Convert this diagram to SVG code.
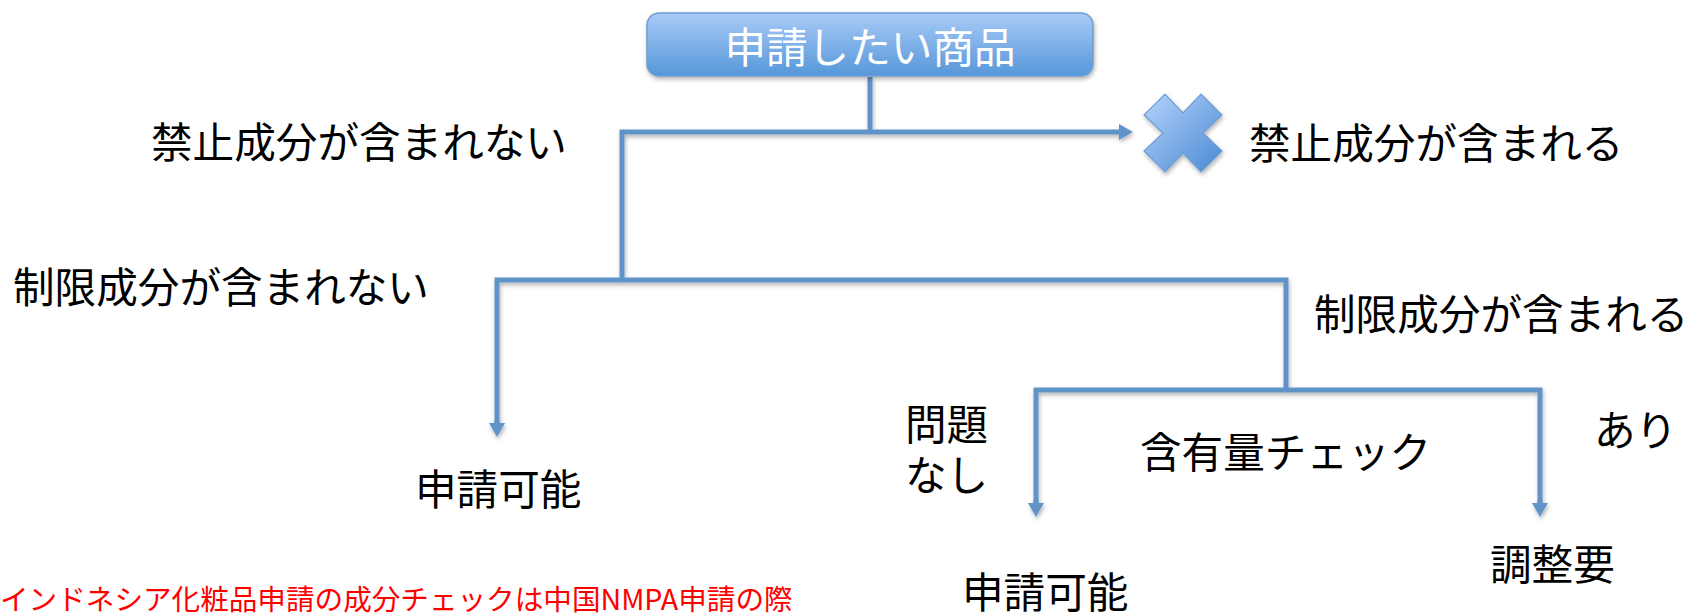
<svg xmlns="http://www.w3.org/2000/svg" width="1689" height="614" viewBox="0 0 1689 614">
  <style>
    .t { font-family: "Noto Sans CJK JP", "Noto Sans", sans-serif; font-size: 41.6px; fill: #000; dominant-baseline: central; }
    .w { fill: #ffffff; text-anchor: middle; }
    .red { font-family: "Noto Sans CJK JP", "Noto Sans", sans-serif; font-size: 28.6px; fill: #ff0000; dominant-baseline: central; }
    .ln { fill: none; stroke: #6194c9; stroke-width: 5; stroke-linejoin: miter; stroke-linecap: butt; }
  </style>
  <defs>
    <linearGradient id="gBox" x1="0" y1="0" x2="0" y2="1">
      <stop offset="0" stop-color="#a8cbf8"/>
      <stop offset="1" stop-color="#5697d8"/>
    </linearGradient>
    <linearGradient id="gX" x1="0" y1="0" x2="1" y2="1">
      <stop offset="0" stop-color="#b6d3fb"/>
      <stop offset="1" stop-color="#4a89d3"/>
    </linearGradient>
    <filter id="sh" x="-10%" y="-10%" width="130%" height="140%">
      <feDropShadow dx="1" dy="2.5" stdDeviation="2" flood-color="#000" flood-opacity="0.3"/>
    </filter>
    <marker id="arr" viewBox="0 0 14 16" markerWidth="14" markerHeight="16" refX="4" refY="8" orient="auto" markerUnits="userSpaceOnUse">
      <path d="M0,0 L14,8 L0,16 z" fill="#6194c9"/>
    </marker>
  </defs>

  <g id="connectors" filter="url(#sh)">
    <path class="ln" d="M870,77 V132"/>
    <path class="ln" d="M622,282 V132 H1123" marker-end="url(#arr)"/>
    <path class="ln" d="M497,427 V280 H1286 V390"/>
    <path class="ln" d="M1036,507 V390 H1540 V507" />
    <path class="ln" d="M1036,500 V507" marker-end="url(#arr)"/>
    <path class="ln" d="M1540,500 V507" marker-end="url(#arr)"/>
    <path class="ln" d="M497,420 V427" marker-end="url(#arr)"/>
  </g>

  <g id="node-start">
    <rect x="647" y="13" width="446" height="63" rx="12" ry="12" fill="url(#gBox)" stroke="#6f9dd2" stroke-width="1.5" filter="url(#sh)"/>
    <text class="t w" x="870" y="45">申請したい商品</text>
  </g>

  <g id="node-ng">
    <polygon transform="translate(1183,133)" points="0,-20 18,-39 39,-18 20,0 39,18 18,39 0,20 -18,39 -39,18 -20,0 -39,-18 -18,-39" fill="url(#gX)" stroke="#6d9dd4" stroke-width="1.2" filter="url(#sh)"/>
  </g>

  <g id="label-no-banned"><text class="t" x="151" y="140">禁止成分が含まれない</text></g>
  <g id="label-banned"><text class="t" x="1249" y="141">禁止成分が含まれる</text></g>
  <g id="label-no-restricted"><text class="t" x="13" y="285">制限成分が含まれない</text></g>
  <g id="label-restricted"><text class="t" x="1314" y="312">制限成分が含まれる</text></g>
  <g id="label-ok">
    <text class="t" x="905" y="422">問題</text>
    <text class="t" x="905" y="473">なし</text>
  </g>
  <g id="label-check"><text class="t" x="1140" y="450">含有量チェック</text></g>
  <g id="label-ari"><text class="t" x="1594" y="428">あり</text></g>
  <g id="node-apply-1"><text class="t" x="415" y="487">申請可能</text></g>
  <g id="node-apply-2"><text class="t" x="962" y="590">申請可能</text></g>
  <g id="node-adjust"><text class="t" x="1490" y="562">調整要</text></g>
  <g id="note"><text class="red" x="0" y="597">インドネシア化粧品申請の成分チェックは中国NMPA申請の際</text></g>
</svg>
